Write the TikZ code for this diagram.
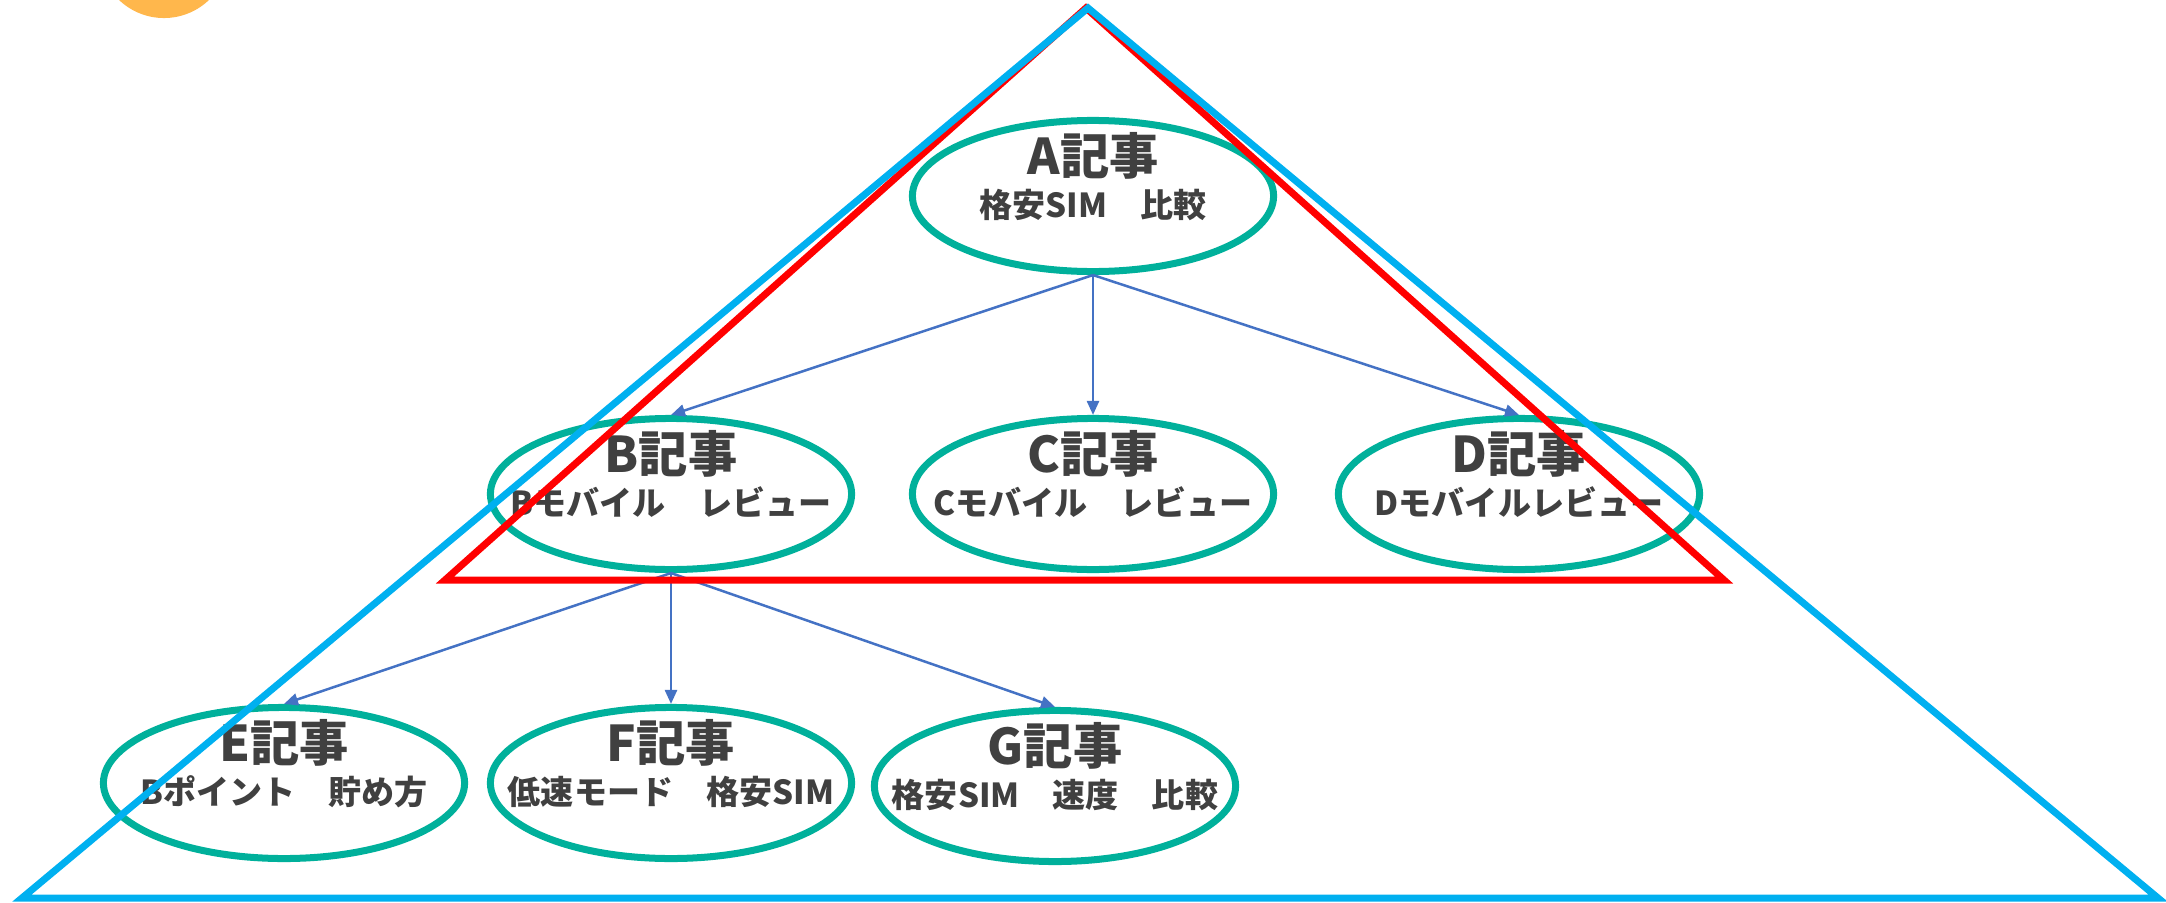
\documentclass[tikz,border=0pt]{standalone}
\usepackage{fontspec}
\newfontfamily\jp{Noto Sans CJK JP}
\usetikzlibrary{shapes.geometric,arrows.meta}
\definecolor{tealc}{RGB}{0,176,155}
\definecolor{txtc}{RGB}{64,64,64}
\definecolor{arrc}{RGB}{68,114,196}
\definecolor{bluec}{RGB}{0,176,240}
\definecolor{redc}{RGB}{255,0,0}
\definecolor{orangec}{RGB}{255,183,76}
\begin{document}
\begin{tikzpicture}[x=0.01cm,y=-0.01cm,
  art/.style={ellipse, draw=tealc, line width=0.07cm, minimum width=3.61cm, minimum height=1.51cm, inner sep=0pt},
  ttl/.style={anchor=base, text=txtc, font=\jp\bfseries\fontsize{14}{15}\selectfont, inner sep=0pt},
  sub/.style={anchor=base, text=txtc, font=\jp\bfseries\fontsize{9.4}{10}\selectfont, inner sep=0pt},
  link/.style={draw=arrc, line width=0.025cm, -{Triangle[length=0.14cm,width=0.12cm]}},
  trired/.style={draw=redc, line width=0.07cm, line join=miter},
  triblue/.style={draw=bluec, line width=0.07cm, line join=miter}]
\useasboundingbox (0,0) rectangle (2166,903);
% decorative circle
\fill[orangec] (164,-47) circle[radius=0.65cm];
% ellipses
\node[art] (A) at (1093,196) {};
\node[art] (B) at (671,494) {};
\node[art] (C) at (1093,494) {};
\node[art] (D) at (1519,494) {};
\node[art] (E) at (284,783) {};
\node[art] (F) at (671,783) {};
\node[art] (G) at (1055,786) {};
% texts
\node[ttl] (At) at (1093,174) {A記事};
\node[sub] (As) at (1093,217) {格安SIM　比較};
\node[ttl] (Bt) at (671,472) {B記事};
\node[sub] (Bs) at (671,515) {Bモバイル　レビュー};
\node[ttl] (Ct) at (1093,472) {C記事};
\node[sub] (Cs) at (1093,515) {Cモバイル　レビュー};
\node[ttl] (Dt) at (1519,472) {D記事};
\node[sub] (Ds) at (1519,515) {Dモバイルレビュー};
\node[ttl] (Et) at (284,761) {E記事};
\node[sub] (Es) at (284,804) {Bポイント　貯め方};
\node[ttl] (Ft) at (671,761) {F記事};
\node[sub] (Fs) at (671,804) {低速モード　格安SIM};
\node[ttl] (Gt) at (1055,764) {G記事};
\node[sub] (Gs) at (1055,807) {格安SIM　速度　比較};
% connectors
\draw[link] (A.south) -- (B.north);
\draw[link] (A.south) -- (C.north);
\draw[link] (A.south) -- (D.north);
\draw[link] (B.south) -- (E.north);
\draw[link] (B.south) -- (F.north);
\draw[link] (B.south) -- (G.north);
% triangles
\draw[trired] (1086,8) -- (445,580) -- (1724,580) -- cycle;
\draw[triblue] (1088,8) -- (22,898) -- (2158,898) -- cycle;
\end{tikzpicture}
\end{document}
